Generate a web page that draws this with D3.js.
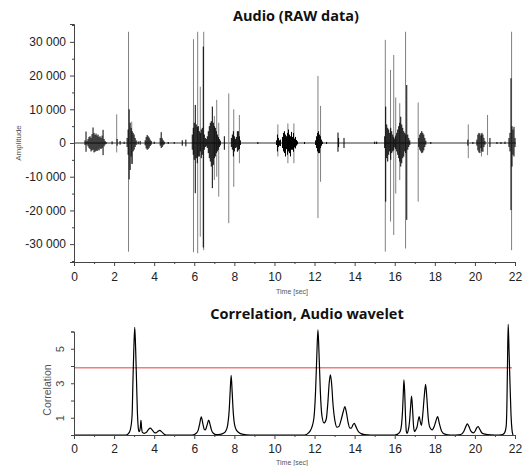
<!DOCTYPE html>
<html>
<head>
<meta charset="utf-8">
<script src="https://cdn.jsdelivr.net/npm/d3@7"></script>
<style>
  html, body { margin: 0; padding: 0; background: #fff; }
  svg { display: block; }
</style>
</head>
<body>
<div id="chart"></div>
<script>
// time axis (seconds)
const timeTicks = [0, 2, 4, 6, 8, 10, 12, 14, 16, 18, 20, 22];
const timeMinor = [1, 3, 5, 7, 9, 11, 13, 15, 17, 19, 21];
const ampTicks = [-30000, -20000, -10000, 0, 10000, 20000, 30000];
const ampMinor = [-35000, -25000, -15000, -5000, 5000, 15000, 25000, 35000];
const corrTicks = [0, 1, 2, 3, 4, 5, 6];
const corrLabels = [1, 3, 5];
const threshold = 3.9;

// dense part of the waveform: [time, max, min]
const core = [
  [0.55, 800, -600], [0.6, 3400, -2600], [0.65, 600, -500], [0.7, 1200, -1000], [0.75, 1800, -1500],
  [0.8, 2000, -1800], [0.85, 1500, -2500], [0.9, 2600, -2200], [0.95, 4600, -2000], [1.0, 3000, -2800],
  [1.05, 2400, -2600], [1.1, 2800, -2300], [1.15, 2200, -2400], [1.2, 2500, -2000], [1.25, 1800, -2200],
  [1.3, 2000, -1600], [1.35, 1500, -1800], [1.4, 2200, -1500], [1.45, 3900, -3600], [1.5, 1200, -1000],
  [1.55, 600, -500], [1.6, 300, -300], [1.9, 500, -400], [2.15, 1200, -800], [2.3, 600, -500], [2.5, 400, -300],
  [2.65, 1500, -1200], [2.7, 4000, -3500], [2.75, 10000, -10800], [2.8, 6000, -8000], [2.85, 4500, -4000],
  [2.9, 3500, -6200], [2.95, 3000, -2500], [3.0, 2500, -2000], [3.05, 1500, -1200], [3.1, 800, -600],
  [3.2, 500, -400], [3.3, 600, -500],
  [3.55, 800, -700], [3.6, 1800, -1600], [3.65, 2400, -2000], [3.7, 2000, -1800], [3.75, 1600, -1400],
  [3.8, 1000, -900], [3.85, 600, -500], [4.0, 400, -300],
  [4.3, 1500, -800], [4.35, 3200, -1500], [4.4, 1400, -1200], [4.45, 800, -700], [4.5, 400, -400],
  [4.7, 300, -300], [5.0, 300, -250], [5.4, 800, -800], [5.58, 1000, -1000],
  [5.9, 2500, -2000], [5.95, 4500, -3500], [6.0, 6000, -5000], [6.05, 11300, -14900], [6.1, 5500, -4500],
  [6.15, 4800, -6000], [6.2, 5000, -4000], [6.25, 3500, -4000], [6.3, 3000, -2500], [6.35, 4000, -4500],
  [6.4, 4500, -3500], [6.45, 28600, -31000], [6.5, 2500, -2000], [6.55, 1500, -1200], [6.6, 1200, -1000],
  [6.65, 2000, -1500], [6.7, 3500, -3000], [6.75, 5000, -4500], [6.8, 6000, -5500], [6.85, 6500, -7000],
  [6.9, 10800, -13400], [6.95, 6000, -6500], [7.0, 5000, -4500], [7.05, 4500, -4000], [7.1, 3500, -3000],
  [7.15, 2500, -2500], [7.2, 1800, -2000], [7.25, 1200, -1200], [7.3, 700, -700], [7.5, 2000, -2000],
  [7.85, 1500, -1200], [7.9, 2500, -2000], [7.95, 3500, -4000], [8.0, 2000, -2500], [8.05, 1200, -1500],
  [8.1, 1800, -1300], [8.15, 3500, -2600], [8.2, 3500, -2200], [8.25, 2000, -1800], [8.3, 800, -600],
  [9.17, 300, -300],
  [10.1, 800, -600], [10.15, 2500, -2500], [10.2, 1500, -1200], [10.25, 800, -800], [10.3, 1000, -900],
  [10.4, 1800, -1500], [10.45, 3000, -2500], [10.5, 3500, -3000], [10.55, 2500, -4000], [10.6, 2000, -1800],
  [10.65, 3000, -3500], [10.7, 4000, -2500], [10.75, 2500, -3000], [10.8, 2000, -4000], [10.85, 3300, -2000],
  [10.9, 1800, -2000], [10.95, 3000, -2600], [11.0, 1300, -1300], [11.05, 1800, -1600], [11.1, 900, -800],
  [11.15, 500, -400], [11.5, 300, -300],
  [12.05, 800, -600], [12.1, 2000, -1500], [12.15, 3000, -2500], [12.2, 3500, -3000], [12.25, 2500, -3000],
  [12.3, 2000, -1500], [12.35, 1000, -800], [12.4, 400, -300], [12.6, 300, -300],
  [13.17, 3100, -2600], [13.2, 1500, -1200], [13.47, 1500, -1500], [15.0, 400, -300], [15.1, 400, -300],
  [15.5, 2000, -1500], [15.55, 10800, -17400], [15.6, 5500, -4500], [15.65, 4500, -5500], [15.7, 4000, -3500],
  [15.75, 3000, -2500], [15.8, 4500, -5000], [15.85, 3500, -3000], [15.9, 2500, -2500], [15.95, 1800, -2200],
  [16.0, 1300, -1300], [16.05, 2200, -1800], [16.1, 3000, -2500], [16.15, 4000, -3500], [16.2, 5000, -4500],
  [16.25, 6000, -5500], [16.3, 7800, -7000], [16.35, 5500, -6000], [16.4, 4500, -4500], [16.45, 3500, -4000],
  [16.5, 3000, -2500], [16.55, 2500, -3000], [16.6, 17200, -22800], [16.65, 2500, -2000], [16.7, 1500, -1200],
  [16.75, 800, -600],
  [17.2, 1500, -1200], [17.25, 2500, -2000], [17.3, 3000, -2500], [17.35, 3500, -3000], [17.4, 3000, -2800],
  [17.45, 2500, -2200], [17.5, 1500, -1200], [17.55, 700, -500], [17.8, 300, -300],
  [19.65, 1000, -800], [19.9, 300, -300],
  [20.1, 1000, -800], [20.15, 2500, -2200], [20.2, 3000, -2800], [20.25, 2800, -3000], [20.3, 2200, -1500],
  [20.35, 3000, -2500], [20.4, 2500, -2600], [20.45, 1500, -1200], [20.5, 600, -500], [20.75, 1500, -1200],
  [21.1, 300, -300], [21.3, 300, -300], [21.5, 400, -300],
  [21.7, 1500, -1200], [21.75, 3000, -2500], [21.8, 19200, -19900], [21.85, 5000, -7000], [21.9, 4000, -3500],
  [21.95, 4800, -4000], [22.0, 1500, -1200]
];

// isolated tall spikes (drawn lighter): [time, max, min]
const spikes = [
  [2.13, 8500, -2800], [2.72, 33000, -32250], [2.88, 6300, -6200],
  [5.96, 30800, -32400], [6.17, 33000, -32700], [6.3, 16700, -27800], [6.47, 33000, -31800],
  [7.0, 8000, -11000], [7.12, 12800, -10000], [7.22, 6000, -15900], [7.72, 14700, -23800],
  [7.97, 10000, -13000], [8.25, 8300, -6000],
  [10.17, 5500, -4000], [10.67, 5800, -6000], [10.97, 5800, -6000],
  [12.17, 19900, -22300], [12.3, 11000, -11500],
  [15.53, 30600, -32200], [15.79, 21700, -23300], [15.95, 26100, -27300], [16.05, 13500, -15000],
  [16.25, 11800, -11000], [16.54, 33000, -31300], [17.17, 12000, -17400],
  [19.67, 5500, -4500], [20.33, 2600, -4000], [20.63, 8300, -3600],
  [21.83, 33000, -31800]
];

// correlation with audio wavelet: [time, value]
const corr = [
  [0, 0], [2.6, 0], [2.76, 0.15], [2.85, 0.55], [2.9, 1.2], [2.94, 3.1], [2.985, 5.0], [3.03, 6.24],
  [3.075, 5.0], [3.12, 3.1], [3.16, 1.4], [3.2, 0.5], [3.24, 0.2], [3.28, 0.25], [3.31, 0.45],
  [3.34, 0.85], [3.37, 0.45], [3.41, 0.15], [3.5, 0.1], [3.6, 0.14], [3.7, 0.3], [3.8, 0.4],
  [3.9, 0.3], [4.0, 0.15], [4.08, 0.12], [4.18, 0.2], [4.28, 0.27], [4.38, 0.18], [4.5, 0.05],
  [4.6, 0], [5.9, 0], [6.1, 0.1], [6.2, 0.3], [6.27, 0.65], [6.35, 1.05], [6.43, 0.65], [6.5, 0.32],
  [6.55, 0.3], [6.6, 0.42], [6.65, 0.62], [6.72, 0.87], [6.79, 0.6], [6.86, 0.28], [6.95, 0.1],
  [7.1, 0.02], [7.3, 0.04], [7.45, 0.1], [7.58, 0.25], [7.67, 0.6], [7.74, 1.4], [7.79, 2.5],
  [7.84, 3.46], [7.89, 2.5], [7.94, 1.4], [8.01, 0.6], [8.12, 0.25], [8.3, 0.08], [8.6, 0.01],
  [9.0, 0], [11.5, 0], [11.7, 0.12], [11.85, 0.4], [11.97, 1.0], [12.05, 2.5], [12.11, 4.5],
  [12.17, 6.09], [12.23, 4.5], [12.29, 2.5], [12.37, 1.1], [12.47, 0.7], [12.58, 0.9], [12.66, 1.8],
  [12.73, 3.0], [12.79, 3.48], [12.85, 3.0], [12.92, 1.8], [13.02, 0.8], [13.12, 0.45], [13.22, 0.5],
  [13.32, 0.85], [13.43, 1.35], [13.51, 1.64], [13.59, 1.3], [13.67, 0.75], [13.76, 0.4],
  [13.84, 0.4], [13.91, 0.58], [13.98, 0.68], [14.06, 0.5], [14.16, 0.25], [14.32, 0.08],
  [14.5, 0.02], [14.8, 0], [16.0, 0], [16.15, 0.05], [16.27, 0.2], [16.34, 0.6], [16.39, 1.4],
  [16.43, 2.5], [16.46, 3.19], [16.5, 2.4], [16.54, 1.0], [16.58, 0.2], [16.62, 0.1], [16.67, 0.25],
  [16.74, 0.8], [16.79, 1.6], [16.84, 2.26], [16.89, 1.5], [16.94, 0.5], [16.99, 0.2], [17.05, 0.3],
  [17.12, 0.5], [17.17, 0.85], [17.22, 1.06], [17.27, 0.8], [17.33, 0.55], [17.4, 1.2],
  [17.47, 2.2], [17.54, 2.94], [17.6, 2.2], [17.67, 1.0], [17.75, 0.45], [17.87, 0.3], [17.97, 0.5],
  [18.05, 0.8], [18.14, 1.06], [18.23, 0.65], [18.34, 0.22], [18.5, 0.05], [18.8, 0], [19.3, 0.03],
  [19.45, 0.22], [19.55, 0.5], [19.62, 0.64], [19.7, 0.5], [19.8, 0.22], [19.92, 0.12], [20.02, 0.25],
  [20.08, 0.4], [20.16, 0.48], [20.25, 0.32], [20.35, 0.12], [20.5, 0.05], [20.8, 0.01], [21.2, 0],
  [21.38, 0.03], [21.48, 0.12], [21.56, 0.5], [21.6, 2.0], [21.63, 4.5], [21.66, 6.42], [21.7, 5.0],
  [21.75, 3.0], [21.8, 1.2], [21.85, 0.3], [21.9, 0]
];

const W = 528, H = 466;
const FONT = "'Liberation Sans', Arial, sans-serif";
const TITLE_FONT = "'Open Sans', 'Noto Sans', sans-serif";
const AXIS = '#444';

const svg = d3.select('#chart').append('svg').attr('width', W).attr('height', H);

const x = d3.scaleLinear().domain([0, 22]).range([74, 515]);
const yAmp = d3.scaleLinear().domain([-35300, 35300]).range([262, 24]);
const yCorr = d3.scaleLinear().domain([0, 6]).range([435, 331.5]);

const fmt = d3.formatLocale({ decimal: '.', thousands: '\u00a0', grouping: [3], currency: ['', ''], minus: '-' }).format(',d');

function styleAxis(g) {
  g.selectAll('.domain').attr('stroke', AXIS);
  g.selectAll('.tick line').attr('stroke', AXIS);
  g.selectAll('.tick text').attr('fill', '#222').attr('font-size', '12px').attr('font-family', FONT);
}

// ---- top panel: raw audio ----
svg.append('text').attr('x', 296).attr('y', 21).attr('text-anchor', 'middle')
  .attr('font-family', TITLE_FONT).attr('font-weight', 700).attr('font-size', '14.5px').attr('fill', '#111')
  .text('Audio (RAW data)');

// baseline
svg.append('line').attr('x1', x(0)).attr('x2', x(22.05)).attr('y1', yAmp(0)).attr('y2', yAmp(0))
  .attr('stroke', '#333').attr('stroke-width', 1.2);

svg.append('g').selectAll('line').data(spikes).join('line')
  .attr('x1', d => x(d[0])).attr('x2', d => x(d[0]))
  .attr('y1', d => yAmp(d[1])).attr('y2', d => yAmp(d[2]))
  .attr('stroke', '#808080').attr('stroke-width', 1);

svg.append('g').selectAll('line').data(core).join('line')
  .attr('x1', d => x(d[0])).attr('x2', d => x(d[0]))
  .attr('y1', d => yAmp(d[1])).attr('y2', d => yAmp(d[2]))
  .attr('stroke', '#000').attr('stroke-width', 1);

svg.append('g').attr('transform', `translate(0,${yAmp.range()[0]})`)
  .call(d3.axisBottom(x).tickValues(timeTicks).tickSize(4).tickPadding(6).tickFormat(d3.format('d')))
  .call(styleAxis);
svg.append('g').attr('transform', `translate(0,${yAmp.range()[0]})`)
  .call(d3.axisBottom(x).tickValues(timeMinor).tickSize(2).tickFormat(''))
  .call(g => g.select('.domain').remove())
  .call(g => g.selectAll('.tick line').attr('stroke', AXIS));

svg.append('g').attr('transform', `translate(${x(0)},0)`)
  .call(d3.axisLeft(yAmp).tickValues(ampTicks).tickSize(4).tickPadding(4).tickFormat(fmt))
  .call(styleAxis);
svg.append('g').attr('transform', `translate(${x(0)},0)`)
  .call(d3.axisLeft(yAmp).tickValues(ampMinor.filter(v => v > -35300 && v < 35300)).tickSize(2).tickFormat(''))
  .call(g => g.select('.domain').remove())
  .call(g => g.selectAll('.tick line').attr('stroke', AXIS));

svg.append('text').attr('x', 292).attr('y', 294).attr('text-anchor', 'middle')
  .attr('font-family', FONT).attr('font-size', '7px').attr('fill', '#555').text('Time [sec]');
svg.append('text').attr('transform', `translate(21,${yAmp(0)}) rotate(-90)`).attr('text-anchor', 'middle')
  .attr('font-family', FONT).attr('font-size', '8px').attr('fill', '#555').text('Amplitude');

// ---- bottom panel: correlation ----
svg.append('text').attr('x', 307).attr('y', 319).attr('text-anchor', 'middle')
  .attr('font-family', TITLE_FONT).attr('font-weight', 700).attr('font-size', '14.5px').attr('fill', '#111')
  .text('Correlation, Audio wavelet');

svg.append('line').attr('x1', x(0)).attr('x2', 512).attr('y1', yCorr(threshold)).attr('y2', yCorr(threshold))
  .attr('stroke', '#f47c7c').attr('stroke-width', 1.5);

svg.append('path').datum(corr)
  .attr('d', d3.line().x(d => x(d[0])).y(d => yCorr(d[1])).curve(d3.curveMonotoneX))
  .attr('fill', 'none').attr('stroke', '#000').attr('stroke-width', 1.2);

svg.append('g').attr('transform', `translate(0,${yCorr(0)})`)
  .call(d3.axisBottom(x).tickValues(timeTicks).tickSize(4).tickPadding(5).tickFormat(d3.format('d')))
  .call(styleAxis);
svg.append('g').attr('transform', `translate(0,${yCorr(0)})`)
  .call(d3.axisBottom(x).tickValues(timeMinor).tickSize(2).tickFormat(''))
  .call(g => g.select('.domain').remove())
  .call(g => g.selectAll('.tick line').attr('stroke', AXIS));

const yAx = svg.append('g').attr('transform', `translate(${x(0)},0)`)
  .call(d3.axisLeft(yCorr).tickValues(corrTicks).tickSize(3)
    .tickFormat(d => corrLabels.includes(d) ? d : ''))
  .call(styleAxis);
yAx.selectAll('.tick text')
  .attr('font-size', '11px').attr('fill', '#444')
  .attr('x', 0).attr('dy', 0).attr('text-anchor', 'middle')
  .attr('transform', 'translate(-10,0) rotate(-90)');

svg.append('text').attr('x', 292).attr('y', 465).attr('text-anchor', 'middle')
  .attr('font-family', FONT).attr('font-size', '7px').attr('fill', '#555').text('Time [sec]');
svg.append('text').attr('transform', `translate(51,390) rotate(-90)`).attr('text-anchor', 'middle')
  .attr('font-family', FONT).attr('font-size', '10.5px').attr('fill', '#555').text('Correlation');
</script>
</body>
</html>
